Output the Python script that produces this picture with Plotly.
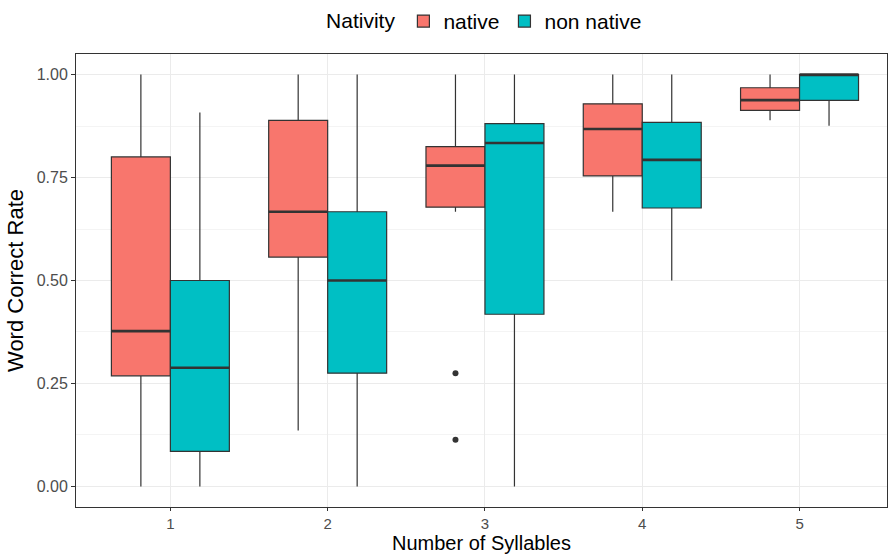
import plotly.graph_objects as go

# Data
categories = [1, 2, 3, 4, 5]
tick_labels = ["1", "2", "3", "4", "5"]

native_lower = [0.0, 0.136, 0.667, 0.667, 0.889]
native_q1 = [0.2685, 0.557, 0.678, 0.754, 0.913]
native_median = [0.377, 0.667, 0.779, 0.868, 0.938]
native_q3 = [0.80, 0.889, 0.825, 0.929, 0.968]
native_upper = [1.0, 1.0, 1.0, 1.0, 1.0]

nonnative_lower = [0.0, 0.0, 0.0, 0.50, 0.876]
nonnative_q1 = [0.085, 0.275, 0.418, 0.676, 0.9375]
nonnative_median = [0.288, 0.50, 0.834, 0.793, 1.0]
nonnative_q3 = [0.50, 0.667, 0.881, 0.884, 1.0]
nonnative_upper = [0.908, 1.0, 1.0, 1.0, 1.0]

native_outlier_cat = [3, 3]
native_outlier_val = [0.275, 0.113]

BOX_W = 0.375
OFF = BOX_W / 2
RED = "#F8766D"
CYAN = "#00BFC4"
LINE = "#333333"

fig = go.Figure()


def add_group(name, sign, fill, lower, q1, med, q3, upper):
    xs = [c + sign * OFF for c in categories]
    fig.add_trace(go.Box(
        name=name, x=xs,
        q1=q1, median=med, q3=q3, lowerfence=lower, upperfence=upper,
        width=BOX_W, fillcolor=fill, line=dict(color=LINE, width=1.2),
        whiskerwidth=0, boxpoints=False,
    ))
    # thicker median segments (ggplot style)
    mx, my = [], []
    for x, m in zip(xs, med):
        mx += [x - BOX_W / 2, x + BOX_W / 2, None]
        my += [m, m, None]
    fig.add_trace(go.Scatter(
        x=mx, y=my, mode="lines", line=dict(color=LINE, width=2.6),
        showlegend=False, hoverinfo="skip",
    ))


add_group("native", -1, RED, native_lower, native_q1, native_median, native_q3, native_upper)
add_group("non native", 1, CYAN, nonnative_lower, nonnative_q1, nonnative_median, nonnative_q3, nonnative_upper)

fig.add_trace(go.Scatter(
    x=[c - OFF for c in native_outlier_cat], y=native_outlier_val,
    mode="markers", marker=dict(color=LINE, size=6),
    showlegend=False, hoverinfo="y",
))

font = "Liberation Sans, Arial, Helvetica, sans-serif"
fig.update_layout(
    width=888, height=557,
    margin=dict(l=76, r=1, t=54, b=50),
    paper_bgcolor="white", plot_bgcolor="white",
    boxmode="overlay",
    font=dict(family=font, color="#000000"),
    showlegend=True,
    legend=dict(
        orientation="h", x=0.505, xanchor="center", y=1.072, yanchor="middle",
        title=dict(text="Nativity", font=dict(size=21), side="left"),
        font=dict(size=21), itemwidth=30, tracegroupgap=0,
        bgcolor="rgba(0,0,0,0)",
    ),
    xaxis=dict(
        range=[0.4, 5.556], tickmode="array", tickvals=categories,
        ticktext=tick_labels, showgrid=True, gridcolor="#EBEBEB", gridwidth=1,
        zeroline=False, showline=True, mirror=True, linecolor=LINE, linewidth=1,
        ticks="outside", ticklen=3, tickcolor=LINE,
        tickfont=dict(size=15, color="#4D4D4D"),
    ),
    yaxis=dict(
        range=[-0.05, 1.05], tick0=0, dtick=0.25, tickformat=".2f",
        showgrid=True, gridcolor="#EBEBEB", gridwidth=1,
        minor=dict(tick0=0.125, dtick=0.25, showgrid=True, gridcolor="#F4F4F4", gridwidth=1),
        zeroline=False, showline=True, mirror=True, linecolor=LINE, linewidth=1,
        ticks="outside", ticklen=4, tickcolor=LINE,
        tickfont=dict(size=16, color="#4D4D4D"),
        title=dict(text="Word Correct Rate", font=dict(size=22), standoff=6),
    ),
    annotations=[dict(
        text="Number of Syllables", xref="paper", yref="paper",
        x=0.5, y=-0.108, xanchor="center", yanchor="bottom",
        showarrow=False, font=dict(size=20, color="#000000"),
    )],
)
fig.write_html("out.html")
